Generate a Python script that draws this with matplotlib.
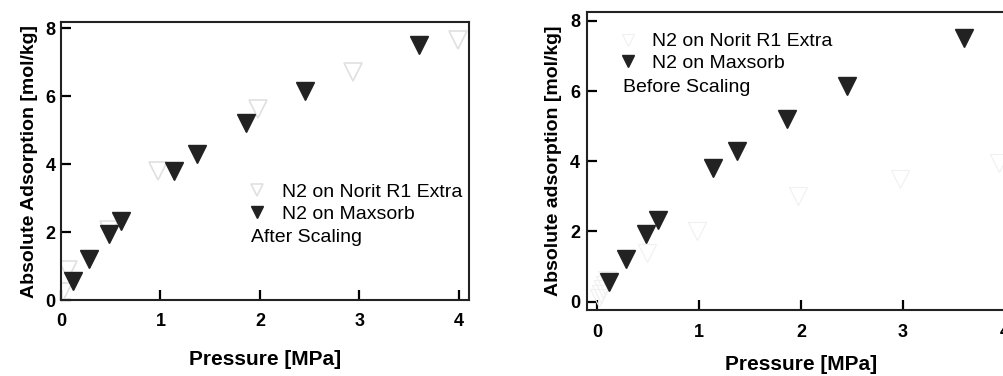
import matplotlib
matplotlib.use("Agg")
import matplotlib.pyplot as plt

plt.rcParams['font.family'] = ['Liberation Sans', 'DejaVu Sans']

# N2 on Maxsorb (same in both panels)
pressure_maxsorb = [0.12, 0.28, 0.48, 0.60, 1.14, 1.37, 1.86, 2.45, 3.60]
uptake_maxsorb = [0.56, 1.22, 1.93, 2.33, 3.80, 4.30, 5.20, 6.15, 7.52]

# N2 on Norit R1 Extra, after scaling (left)
pressure_norit_scaled = [0.02, 0.07, 0.48, 0.98, 1.98, 2.94, 3.99]
uptake_norit_scaled = [0.25, 0.88, 2.05, 3.80, 5.62, 6.72, 7.65]

# N2 on Norit R1 Extra, before scaling (right)
pressure_norit_raw = [0.02, 0.04, 0.06, 0.08, 0.10, 0.49, 0.98, 1.97, 2.97, 3.95]
uptake_norit_raw = [0.10, 0.22, 0.35, 0.48, 0.62, 1.38, 2.00, 3.00, 3.50, 3.96]

x_ticks = [0, 1, 2, 3, 4]
y_ticks = [0, 2, 4, 6, 8]

fig = plt.figure(figsize=(10.04, 3.76), dpi=100)
ax1 = fig.add_axes([0.0608, 0.202, 0.406, 0.739])
ax2 = fig.add_axes([0.5847, 0.1755, 0.426, 0.793])


def style(ax, xpad, ypad):
    ax.set_xticks(x_ticks)
    ax.set_yticks(y_ticks)
    ax.tick_params(direction='in', length=7, width=1.6, top=False, right=False,
                   labelsize=13)
    ax.tick_params(axis='x', pad=xpad)
    ax.tick_params(axis='y', pad=ypad)
    for lab in ax.get_xticklabels() + ax.get_yticklabels():
        lab.set_fontweight('bold')
    for sp in ax.spines.values():
        sp.set_linewidth(1.5)
        sp.set_color('#222222')


leg_kw = dict(loc='upper left', frameon=False, fontsize=14, handlelength=1.0,
              handletextpad=0.75, labelspacing=0.22, borderpad=0, borderaxespad=0,
              markerscale=0.65)

# left panel
ax1.plot(pressure_norit_scaled, uptake_norit_scaled, linestyle='none', marker='v',
         ms=13, mfc='none', mec='#e0e0e0', mew=1.2, label='N2 on Norit R1 Extra')
ax1.plot(pressure_maxsorb, uptake_maxsorb, linestyle='none', marker='v',
         ms=13, color='#222222', label='N2 on Maxsorb')
ax1.set_xlim(0, 4.1)
ax1.set_ylim(0, 8.18)
style(ax1, 9, 4)
ax1.set_xlabel('Pressure [MPa]', fontsize=15, fontweight='bold', labelpad=15)
ax1.set_ylabel('Absolute Adsorption [mol/kg]', fontsize=14, fontweight='bold', labelpad=5)
ax1.legend(bbox_to_anchor=(0.458, 0.42), **leg_kw)
ax1.text(0.466, 0.226, 'After Scaling', transform=ax1.transAxes, fontsize=14,
         ha='left', va='center')

# right panel
ax2.plot(pressure_norit_raw, uptake_norit_raw, linestyle='none', marker='v',
         ms=13, mfc='none', mec='#f0f0f0', mew=0.8, label='N2 on Norit R1 Extra')
ax2.plot(pressure_maxsorb, uptake_maxsorb, linestyle='none', marker='v',
         ms=13, color='#222222', label='N2 on Maxsorb')
ax2.set_xlim(-0.1, 4.1)
ax2.set_ylim(-0.24, 8.26)
style(ax2, 10, 5)
ax2.set_xlabel('Pressure [MPa]', fontsize=15, fontweight='bold', labelpad=10)
ax2.set_ylabel('Absolute adsorption [mol/kg]', fontsize=14, fontweight='bold', labelpad=6)
ax2.legend(bbox_to_anchor=(0.072, 0.93), **leg_kw)
ax2.text(0.084, 0.745, 'Before Scaling', transform=ax2.transAxes, fontsize=14,
         ha='left', va='center')

fig.savefig('out.png', dpi=100)
